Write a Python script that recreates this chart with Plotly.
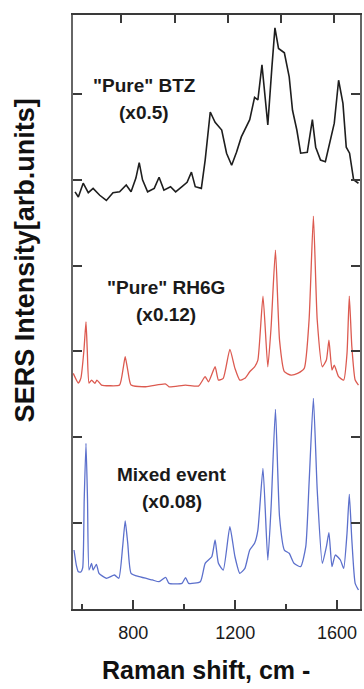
import plotly.graph_objects as go

# Raman shift (cm^-1) and stacked intensities (arb. units)
x_btz = [571,584,603,623,642,668,694,720,746,772,791,810,823,836,856,882,901,920,946,966,
         991,1011,1028,1043,1067,1082,1102,1121,1147,1166,1186,1205,1224,1257,1276,1289,1305,1318,1328,1344,
         1356,1370,1393,1412,1425,1442,1457,1483,1503,1516,1535,1554,1574,1589,1606,1623,1636,1649,1665,1684]
y_btz = [4.86,4.80,4.96,4.85,4.90,4.82,4.76,4.85,4.86,4.94,4.86,5.02,5.20,5.00,4.86,4.90,5.03,4.88,4.92,4.86,
         4.92,4.97,5.09,4.92,4.90,5.23,5.79,5.67,5.58,5.31,5.17,5.32,5.50,5.70,5.96,5.93,6.34,5.96,5.64,6.31,
         6.77,6.53,6.48,6.20,5.81,5.58,5.31,5.32,5.70,5.38,5.23,5.21,5.46,5.66,6.16,5.89,5.38,5.31,5.00,4.96]

x_r6g = [564,584,594,606,614,619,626,636,649,657,675,707,746,761,768,778,791,849,927,940,
         1005,1056,1082,1095,1121,1134,1153,1179,1199,1218,1238,1257,1276,1289,1309,1328,1341,1358,1374,1393,
         1419,1445,1471,1490,1507,1522,1542,1558,1568,1580,1589,1606,1626,1639,1648,1658,1671,1684]
y_r6g = [2.745,2.632,2.690,3.017,3.346,3.017,2.632,2.667,2.629,2.667,2.609,2.601,2.609,2.822,2.939,2.784,2.609,2.589,2.621,2.589,
         2.609,2.597,2.706,2.647,2.822,2.667,2.687,3.025,2.803,2.667,2.687,2.764,2.822,2.900,3.645,2.822,3.288,4.181,3.133,2.764,
         2.725,2.745,2.803,3.366,4.577,3.366,2.822,2.900,3.133,2.784,2.842,2.706,2.667,2.978,3.645,3.055,2.667,2.609]

x_mix = [567,576,584,594,601,607,614,620,626,636,642,655,665,694,726,743,758,768,778,791,
         823,875,901,927,940,991,1005,1017,1063,1082,1108,1121,1134,1153,1179,1199,1218,1238,1257,1276,
         1289,1309,1328,1341,1358,1374,1393,1412,1431,1457,1477,1490,1507,1522,1542,1558,1568,1580,1593,1613,
         1626,1639,1648,1658,1671,1684]
y_mix = [0.687,0.512,0.434,0.431,0.478,1.270,1.930,1.270,0.454,0.532,0.454,0.521,0.416,0.358,0.396,0.358,0.726,1.025,0.765,0.416,
         0.376,0.338,0.318,0.369,0.299,0.299,0.365,0.299,0.318,0.532,0.609,0.804,0.532,0.454,0.959,0.609,0.416,0.474,0.687,0.765,
         0.920,1.639,0.571,1.191,2.326,1.075,0.687,0.649,0.532,0.493,0.726,1.464,2.454,1.386,0.532,0.726,0.889,0.493,0.629,0.571,
         0.474,0.882,1.336,0.804,0.299,0.221]

x_range = [563, 1690]
y_range = [0, 6.92]
x_major = [800, 1200, 1600]
x_major_text = ["800", "1200", "1600"]
x_minor = [600, 1000, 1400]
x_top_ticks = [753, 963, 1173, 1379, 1588]
y_ticks = [1, 2, 3, 4, 5, 6]

labels = [
    ('"Pure" BTZ', 843, 6.10), ("(x0.5)", 843, 5.78),
    ('"Pure" RH6G', 930, 3.75), ("(x0.12)", 927, 3.43),
    ("Mixed event", 948, 1.57), ("(x0.08)", 952, 1.25),
]

FONT = "Arial, Liberation Sans, sans-serif"
AX = "#3a3a3a"

fig = go.Figure()
fig.add_trace(go.Scatter(x=x_btz, y=y_btz, mode="lines", line=dict(color="#1e1e1e", width=1.6),
                         xaxis="x2", showlegend=False, hoverinfo="skip"))
fig.add_trace(go.Scatter(x=x_r6g, y=y_r6g, mode="lines", line=dict(color="#dc5a50", width=1.3, shape="spline", smoothing=0.5),
                         showlegend=False, hoverinfo="skip"))
fig.add_trace(go.Scatter(x=x_mix, y=y_mix, mode="lines", line=dict(color="#5c70cc", width=1.3, shape="spline", smoothing=0.5),
                         showlegend=False, hoverinfo="skip"))

for text, xv, yv in labels:
    fig.add_annotation(x=xv, y=yv, xref="x", yref="y", text="<b>%s</b>" % text, showarrow=False,
                       font=dict(family=FONT, size=19, color="#1a1a1a"), xanchor="center", yanchor="middle")

fig.add_annotation(x=0.465, y=-0.103, xref="paper", yref="paper", text="<b>Raman shift, cm -</b>",
                   showarrow=False, font=dict(family=FONT, size=25, color="#111"),
                   xanchor="center", yanchor="middle")
fig.add_annotation(x=-0.166, y=0.5875, xref="paper", yref="paper", text="<b>SERS Intensity[arb.units]</b>",
                   showarrow=False, textangle=-90, font=dict(family=FONT, size=27, color="#111"),
                   xanchor="center", yanchor="middle")

fig.update_layout(
    width=364, height=689,
    margin=dict(l=73, r=2, t=15, b=80),
    paper_bgcolor="white", plot_bgcolor="white",
    xaxis=dict(range=x_range, tickvals=x_major, ticktext=x_major_text, ticks="inside", ticklen=9,
               tickwidth=1.5, tickcolor=AX, showline=True, linecolor=AX, linewidth=1.8, mirror=True,
               showgrid=False, zeroline=False, ticklabelstandoff=6,
               tickfont=dict(family=FONT, size=18, color="#1a1a1a"),
               minor=dict(tickvals=x_minor, ticks="inside", ticklen=5, tickwidth=1.5, tickcolor=AX, showgrid=False)),
    xaxis2=dict(matches="x", overlaying="x", side="top", tickvals=x_top_ticks, ticks="inside", ticklen=8,
                tickwidth=1.5, tickcolor=AX, showticklabels=False, showline=False, showgrid=False, zeroline=False),
    yaxis=dict(range=y_range, tickvals=y_ticks, ticks="inside", ticklen=9, tickwidth=1.5, tickcolor=AX,
               showticklabels=False, showline=True, linecolor="#666", linewidth=1.5, mirror="ticks",
               showgrid=False, zeroline=False),
)

fig.write_html("out.html", config={"displayModeBar": False},
               post_script="document.body.style.margin='0';document.body.style.padding='0';document.documentElement.style.overflow='hidden';")
